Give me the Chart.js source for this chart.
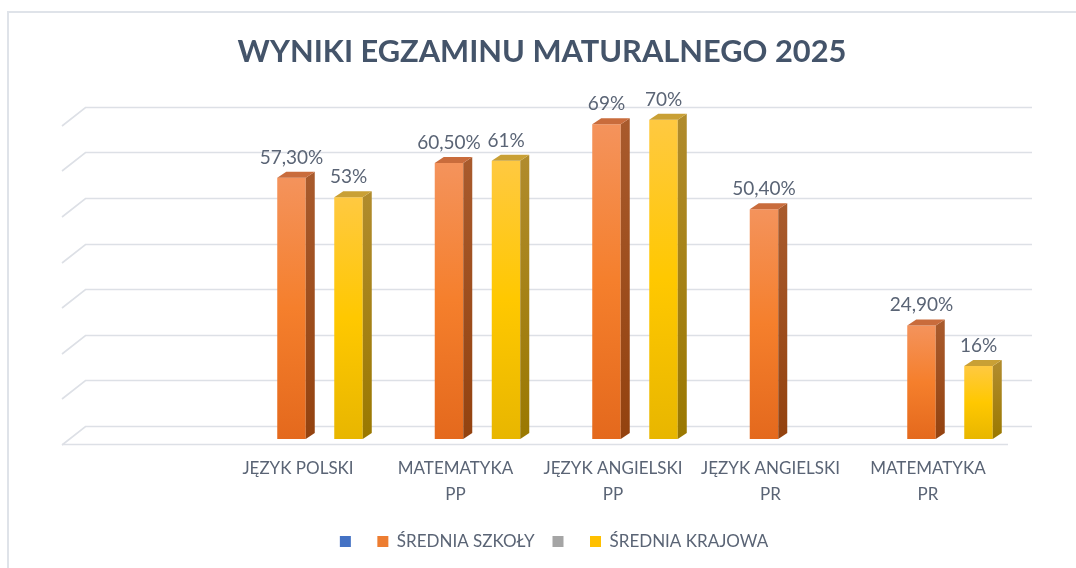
<!DOCTYPE html>
<html><head><meta charset="utf-8">
<script src="https://cdn.jsdelivr.net/npm/chart.js@4.4.1/dist/chart.umd.min.js"></script>
<style>html,body{margin:0;padding:0;background:#fff;}</style>
</head><body>
<canvas id="c" width="1076" height="568"></canvas>
<script>
// ---- data ----
const categories = ['', 'JĘZYK POLSKI', ['MATEMATYKA', 'PP'], ['JĘZYK ANGIELSKI', 'PP'], ['JĘZYK ANGIELSKI', 'PR'], ['MATEMATYKA', 'PR']];
const seriesNames = ['', 'ŚREDNIA SZKOŁY', '', 'ŚREDNIA KRAJOWA'];
const emptySeriesA = [null, null, null, null, null, null];
const schoolAvg = [null, 57.3, 60.5, 69, 50.4, 24.9];
const emptySeriesB = [null, null, null, null, null, null];
const nationalAvg = [null, 53, 61, 70, null, 16];
const yMin = 0, yMax = 75, yStep = 10, gridMax = 70;

// ---- styles ----
const FONT = 'Lato';
const TXT = '#5a6475';
const DX = 9, DY = 6;
const faces = {
  1: { front: ['#f4935c', '#f57f2c', '#e4691d'], side: ['#a85a2c', '#93420f'], top: '#c96c3c', solid: '#ED7D31' },
  3: { front: ['#ffc941', '#ffc800', '#e8b600'], side: ['#b08b2c', '#9a7800'], top: '#c9a035', solid: '#FFC000' }
};

function frontFill(k) {
  const f = faces[k];
  return (ctx) => {
    const chart = ctx.chart, ys = chart.scales && chart.scales.y;
    const v = ctx.raw;
    if (!ys || v == null || ctx.type !== 'data') return f.solid;
    const top = ys.getPixelForValue(v), base = ys.getPixelForValue(0);
    if (!isFinite(top) || !isFinite(base) || top === base) return f.solid;
    const g = chart.ctx.createLinearGradient(0, top, 0, base);
    g.addColorStop(0, f.front[0]); g.addColorStop(0.5, f.front[1]); g.addColorStop(1, f.front[2]);
    return g;
  };
}

function fmt(v) {
  return Number.isInteger(v) ? v + '%' : v.toFixed(2).replace('.', ',') + '%';
}

const wallPlugin = {
  id: 'wall',
  afterLayout(chart) {
    if (chart.legend) { chart.legend.left += 24; }
  },
  beforeDraw(chart) {
    const c = chart.ctx;
    c.save();
    c.strokeStyle = '#dfe3e9'; c.lineWidth = 2;
    c.strokeRect(8, 12, chart.width + 20, chart.height + 20);
    c.restore();
  },
  beforeDatasetsDraw(chart) {
    const c = chart.ctx, a = chart.chartArea, y = chart.scales.y;
    const fl = a.left - 7.5, fr = a.right - 6.5;
    c.save();
    c.strokeStyle = '#dde0e6'; c.lineWidth = 1.6;
    y.ticks.forEach(t => {
      if (t.value % yStep !== 0 || t.value > gridMax) return;
      const py = Math.round(y.getPixelForValue(t.value) - 13) + 0.5;
      c.beginPath();
      c.moveTo(fl, py + 18.5);
      c.lineTo(fl + 23.5, py);
      c.lineTo(fr + 24, py);
      c.stroke();
    });
    const pf = Math.round(y.getPixelForValue(0) + 5) + 0.5;
    c.beginPath(); c.moveTo(fl, pf); c.lineTo(fr, pf); c.stroke();
    c.restore();
  }
};

const bar3dPlugin = {
  id: 'bar3d',
  afterDatasetsDraw(chart) {
    const c = chart.ctx;
    c.save();
    chart.data.datasets.forEach((ds, i) => {
      const f = faces[i];
      if (!f) return;
      const meta = chart.getDatasetMeta(i);
      meta.data.forEach((el, j) => {
        const v = ds.data[j];
        if (v == null) return;
        const p = el.getProps(['x', 'y', 'base', 'width'], true);
        const l = p.x - p.width / 2, r = p.x + p.width / 2;
        const sg = c.createLinearGradient(0, p.y, 0, p.base);
        sg.addColorStop(0, f.side[0]); sg.addColorStop(1, f.side[1]);
        c.fillStyle = sg;
        c.beginPath();
        c.moveTo(r, p.y); c.lineTo(r + DX, p.y - DY); c.lineTo(r + DX, p.base - DY); c.lineTo(r, p.base);
        c.closePath(); c.fill();
        c.fillStyle = f.top;
        c.beginPath();
        c.moveTo(l, p.y); c.lineTo(l + DX, p.y - DY); c.lineTo(r + DX, p.y - DY); c.lineTo(r, p.y);
        c.closePath(); c.fill();
        // data label
        c.fillStyle = TXT;
        c.font = '19px ' + FONT;
        c.textAlign = 'center';
        c.textBaseline = 'alphabetic';
        c.fillText(fmt(v), p.x, p.y - 14);
      });
    });
    c.restore();
  }
};

function build() {
  new Chart(document.getElementById('c'), {
    type: 'bar',
    data: {
      labels: categories,
      datasets: [
        { label: seriesNames[0], data: emptySeriesA, backgroundColor: '#4472C4', borderWidth: 0 },
        { label: seriesNames[1], data: schoolAvg, backgroundColor: frontFill(1), borderWidth: 0 },
        { label: seriesNames[2], data: emptySeriesB, backgroundColor: '#A5A5A5', borderWidth: 0 },
        { label: seriesNames[3], data: nationalAvg, backgroundColor: frontFill(3), borderWidth: 0 }
      ]
    },
    options: {
      responsive: false,
      devicePixelRatio: 1,
      animation: false,
      categoryPercentage: 0.724,
      barPercentage: 1.0,
      layout: { padding: { left: 69.5, right: 61.5, top: 0, bottom: 8 } },
      plugins: {
        title: {
          display: true,
          text: 'WYNIKI EGZAMINU MATURALNEGO 2025',
          color: '#44546A',
          font: { family: FONT, size: 30.8, weight: 'bold', lineHeight: 1.2 },
          padding: { top: 33.5, bottom: 26.5 }
        },
        legend: {
          position: 'bottom',
          labels: {
            boxWidth: 11, boxHeight: 11, padding: 18,
            color: TXT,
            font: { family: FONT, size: 17 }
          }
        },
        tooltip: { enabled: false }
      },
      scales: {
        x: {
          grid: { display: false, drawTicks: false },
          border: { display: false },
          ticks: {
            color: TXT, font: { family: FONT, size: 17, lineHeight: 1.55 },
            padding: 16, labelOffset: -7.75, maxRotation: 0, autoSkip: false
          },
          afterFit: (s) => { s.height = 76; }
        },
        y: {
          min: yMin, max: yMax,
          grid: { display: false, drawTicks: false },
          border: { display: false },
          ticks: { display: false, stepSize: yStep },
          afterFit: (s) => { s.width = 0; }
        }
      }
    },
    plugins: [wallPlugin, bar3dPlugin]
  });
}
(document.fonts && document.fonts.load ? Promise.all([document.fonts.load('17px Lato'), document.fonts.load('bold 30.8px Lato')]) : Promise.resolve()).then(build, build);
</script>
</body></html>
